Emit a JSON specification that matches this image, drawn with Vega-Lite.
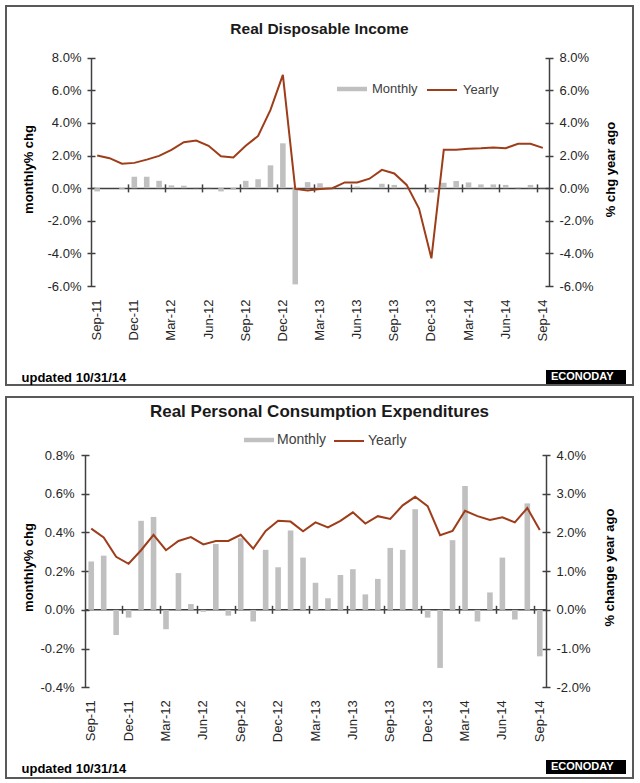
{
  "$schema": "https://vega.github.io/schema/vega-lite/v6.json",
  "padding": {"left": 5, "top": 5, "right": 0, "bottom": 0},
  "autosize": {"type": "pad"},
  "background": "white",
  "spacing": 10,
  "config": {"font": "Liberation Sans", "view": {"stroke": null}, "axis": {"grid": false}},
  "datasets": {
    "rdi": [
      {"m": "Sep-11", "monthly": -0.2, "yearly": 2.0},
      {"m": "Oct-11", "monthly": 0.0, "yearly": 1.84},
      {"m": "Nov-11", "monthly": -0.05, "yearly": 1.5},
      {"m": "Dec-11", "monthly": 0.7, "yearly": 1.55},
      {"m": "Jan-12", "monthly": 0.7, "yearly": 1.75},
      {"m": "Feb-12", "monthly": 0.45, "yearly": 1.98},
      {"m": "Mar-12", "monthly": 0.17, "yearly": 2.35},
      {"m": "Apr-12", "monthly": 0.15, "yearly": 2.82},
      {"m": "May-12", "monthly": 0.05, "yearly": 2.92},
      {"m": "Jun-12", "monthly": 0.05, "yearly": 2.6},
      {"m": "Jul-12", "monthly": -0.2, "yearly": 1.95},
      {"m": "Aug-12", "monthly": -0.1, "yearly": 1.88},
      {"m": "Sep-12", "monthly": 0.45, "yearly": 2.6},
      {"m": "Oct-12", "monthly": 0.55, "yearly": 3.2},
      {"m": "Nov-12", "monthly": 1.4, "yearly": 4.8},
      {"m": "Dec-12", "monthly": 2.75, "yearly": 6.95},
      {"m": "Jan-13", "monthly": -5.9, "yearly": -0.05},
      {"m": "Feb-13", "monthly": 0.37, "yearly": -0.15},
      {"m": "Mar-13", "monthly": 0.3, "yearly": -0.05},
      {"m": "Apr-13", "monthly": 0.05, "yearly": 0.0},
      {"m": "May-13", "monthly": 0.05, "yearly": 0.35},
      {"m": "Jun-13", "monthly": 0.1, "yearly": 0.35},
      {"m": "Jul-13", "monthly": 0.05, "yearly": 0.58},
      {"m": "Aug-13", "monthly": 0.27, "yearly": 1.12},
      {"m": "Sep-13", "monthly": 0.2, "yearly": 0.9},
      {"m": "Oct-13", "monthly": 0.05, "yearly": 0.2},
      {"m": "Nov-13", "monthly": 0.0, "yearly": -1.25},
      {"m": "Dec-13", "monthly": -0.27, "yearly": -4.3},
      {"m": "Jan-14", "monthly": 0.33, "yearly": 2.35},
      {"m": "Feb-14", "monthly": 0.44, "yearly": 2.35},
      {"m": "Mar-14", "monthly": 0.35, "yearly": 2.42},
      {"m": "Apr-14", "monthly": 0.23, "yearly": 2.45},
      {"m": "May-14", "monthly": 0.23, "yearly": 2.5},
      {"m": "Jun-14", "monthly": 0.2, "yearly": 2.45},
      {"m": "Jul-14", "monthly": 0.05, "yearly": 2.72},
      {"m": "Aug-14", "monthly": 0.2, "yearly": 2.72},
      {"m": "Sep-14", "monthly": 0.05, "yearly": 2.47}
    ],
    "pce": [
      {"m": "Sep-11", "monthly": 0.25, "yearly": 2.10},
      {"m": "Oct-11", "monthly": 0.28, "yearly": 1.87},
      {"m": "Nov-11", "monthly": -0.13, "yearly": 1.37},
      {"m": "Dec-11", "monthly": -0.04, "yearly": 1.19},
      {"m": "Jan-12", "monthly": 0.46, "yearly": 1.54},
      {"m": "Feb-12", "monthly": 0.48, "yearly": 1.94},
      {"m": "Mar-12", "monthly": -0.10, "yearly": 1.54},
      {"m": "Apr-12", "monthly": 0.19, "yearly": 1.78},
      {"m": "May-12", "monthly": 0.03, "yearly": 1.88},
      {"m": "Jun-12", "monthly": -0.01, "yearly": 1.69},
      {"m": "Jul-12", "monthly": 0.34, "yearly": 1.78},
      {"m": "Aug-12", "monthly": -0.03, "yearly": 1.78},
      {"m": "Sep-12", "monthly": 0.37, "yearly": 1.94},
      {"m": "Oct-12", "monthly": -0.06, "yearly": 1.58},
      {"m": "Nov-12", "monthly": 0.31, "yearly": 2.04},
      {"m": "Dec-12", "monthly": 0.22, "yearly": 2.30},
      {"m": "Jan-13", "monthly": 0.41, "yearly": 2.28},
      {"m": "Feb-13", "monthly": 0.27, "yearly": 2.03},
      {"m": "Mar-13", "monthly": 0.14, "yearly": 2.26},
      {"m": "Apr-13", "monthly": 0.06, "yearly": 2.13},
      {"m": "May-13", "monthly": 0.18, "yearly": 2.30},
      {"m": "Jun-13", "monthly": 0.21, "yearly": 2.52},
      {"m": "Jul-13", "monthly": 0.08, "yearly": 2.23},
      {"m": "Aug-13", "monthly": 0.16, "yearly": 2.42},
      {"m": "Sep-13", "monthly": 0.32, "yearly": 2.35},
      {"m": "Oct-13", "monthly": 0.31, "yearly": 2.70},
      {"m": "Nov-13", "monthly": 0.52, "yearly": 2.92},
      {"m": "Dec-13", "monthly": -0.04, "yearly": 2.68},
      {"m": "Jan-14", "monthly": -0.30, "yearly": 1.93},
      {"m": "Feb-14", "monthly": 0.36, "yearly": 2.04},
      {"m": "Mar-14", "monthly": 0.64, "yearly": 2.56},
      {"m": "Apr-14", "monthly": -0.06, "yearly": 2.42},
      {"m": "May-14", "monthly": 0.09, "yearly": 2.32},
      {"m": "Jun-14", "monthly": 0.27, "yearly": 2.39},
      {"m": "Jul-14", "monthly": -0.05, "yearly": 2.26},
      {"m": "Aug-14", "monthly": 0.55, "yearly": 2.63},
      {"m": "Sep-14", "monthly": -0.24, "yearly": 2.06}
    ]
  },
  "vconcat": [
    {
      "width": 627,
      "height": 379,
      "view": {"stroke": "#595959", "strokeWidth": 2, "fill": "white"},
      "title": {"text": "Real Disposable  Income", "fontSize": 15.5, "fontWeight": "bold", "color": "#1a1a1a", "anchor": "middle", "frame": "group", "offset": -31},
      "data": {"name": "rdi"},
      "layer": [
        {
          "mark": {"type": "bar"},
          "encoding": {
            "x": {"field": "m", "type": "ordinal", "sort": null,
              "scale": {"range": [85, 543], "paddingInner": 0.55, "paddingOuter": 0.275},
              "axis": {"orient": "bottom", "offset": -99, "domain": false, "ticks": false, "tickSize": 0, "labelAngle": -90, "labelPadding": 13, "labelFontSize": 13, "labelColor": "#262626", "labelOverlap": false, "labelBound": false, "labelFlush": false,
                "values": ["Sep-11", "Dec-11", "Mar-12", "Jun-12", "Sep-12", "Dec-12", "Mar-13", "Jun-13", "Sep-13", "Dec-13", "Mar-14", "Jun-14", "Sep-14"],
                "title": "updated 10/31/14", "titleX": 15, "titleY": 91, "titleAlign": "left", "titleBaseline": "middle", "titleFontSize": 13, "titleFontWeight": "bold", "titleColor": "#000000"}},
            "y": {"field": "monthly", "type": "quantitative",
              "scale": {"domain": [-6, 8], "range": [280, 51.7], "nice": false, "zero": false},
              "axis": {"orient": "left", "offset": -85, "domain": true, "domainColor": "#404040", "domainWidth": 1.5, "ticks": false, "tickSize": 0, "labelPadding": 10, "values": [-6, -4, -2, 0, 2, 4, 6, 8],
                "labelExpr": "(datum.value < 0 ? '-' : '') + format(abs(datum.value), '.1f') + '%'", "labelFontSize": 13, "labelColor": "#262626",
                "title": "monthly% chg", "titleFontSize": 13, "titleFontWeight": "bold", "titleColor": "#000000", "titleAngle": -90, "titleX": -63, "titleY": 163, "titleBaseline": "middle", "titleAlign": "center"}},
            "fill": {"datum": "Monthly", "type": "nominal", "scale": {"range": ["#c0c0c0"]},
              "legend": {"orient": "none", "legendX": 331, "legendY": 68, "title": null, "symbolType": "M-1,-0.15H1V0.15H-1Z", "symbolSize": 900, "symbolStrokeWidth": 0, "labelFontSize": 13, "labelColor": "#404040", "labelOffset": 5, "padding": 0}}
          }
        },
        {
          "mark": {"type": "line", "strokeWidth": 2},
          "encoding": {
            "x": {"field": "m", "type": "ordinal", "sort": null,
              "axis": {"orient": "bottom", "offset": -197.1, "domain": true, "domainColor": "#404040", "domainWidth": 1.5, "ticks": false, "labels": false, "title": null}},
            "y": {"field": "yearly", "type": "quantitative",
              "scale": {"domain": [-6, 8], "range": [280, 51.7], "nice": false, "zero": false},
              "axis": {"orient": "right", "offset": -84, "domain": true, "domainColor": "#404040", "domainWidth": 1.5, "ticks": false, "tickSize": 0, "labelPadding": 10, "values": [-6, -4, -2, 0, 2, 4, 6, 8],
                "labelExpr": "(datum.value < 0 ? '-' : '') + format(abs(datum.value), '.1f') + '%'", "labelFontSize": 13, "labelColor": "#262626",
                "title": "% chg year ago", "titleFontSize": 13, "titleFontWeight": "bold", "titleColor": "#000000", "titleAngle": -90, "titleX": 61, "titleY": 163, "titleBaseline": "middle", "titleAlign": "center"}},
            "stroke": {"datum": "Yearly", "type": "nominal", "scale": {"range": ["#9e3d1a"]},
              "legend": {"orient": "none", "legendX": 420, "legendY": 68, "title": null, "symbolType": "stroke", "symbolSize": 900, "symbolStrokeWidth": 2, "labelFontSize": 13, "labelColor": "#404040", "labelOffset": 5, "padding": 0}}
          }
        },
        {
          "mark": {"type": "bar", "opacity": 0},
          "encoding": {
            "x": {"field": "m", "type": "ordinal", "sort": null,
              "axis": {"orient": "bottom", "offset": -201.1, "domain": false, "ticks": true, "tickSize": 8, "tickColor": "#404040", "tickWidth": 1.5, "tickOffset": -6.19, "labels": false,
                "values": ["Dec-11", "Mar-12", "Jun-12", "Sep-12", "Dec-12", "Mar-13", "Jun-13", "Sep-13", "Dec-13", "Mar-14", "Jun-14", "Sep-14"], "title": null}},
            "y": {"field": "monthly", "type": "quantitative",
              "scale": {"domain": [-6, 8], "range": [280, 51.7], "nice": false, "zero": false},
              "axis": {"orient": "left", "offset": -89, "domain": false, "labels": false, "ticks": true, "tickSize": 8, "tickColor": "#404040", "tickWidth": 1.5, "values": [-6, -4, -2, 0, 2, 4, 6, 8], "title": null}}
          }
        },
        {
          "mark": {"type": "bar", "opacity": 0, "color": "#000000"},
          "encoding": {
            "x": {"field": "m", "type": "ordinal", "sort": null, "axis": null},
            "y": {"field": "yearly", "type": "quantitative",
              "scale": {"domain": [-6, 8], "range": [280, 51.7], "nice": false, "zero": false},
              "axis": {"orient": "right", "offset": -88, "domain": false, "labels": false, "ticks": true, "tickSize": 8, "tickColor": "#404040", "tickWidth": 1.5, "values": [-6, -4, -2, 0, 2, 4, 6, 8], "title": null}},
            "strokeDash": {"datum": "ECONODAY", "type": "nominal",
              "legend": {"orient": "none", "legendX": 540, "legendY": 331, "title": null, "symbolType": "M-1,-0.175H1V0.175H-1Z", "symbolSize": 6400, "symbolFillColor": "#000000", "symbolStrokeWidth": 0, "symbolOpacity": 1, "labelFontSize": 11, "labelFontWeight": "bold", "labelColor": "#ffffff", "labelOffset": -75, "padding": 0}}
          }
        }
      ],
      "resolve": {"scale": {"y": "independent"}, "axis": {"x": "independent", "y": "independent"}}
    },
    {
      "width": 627,
      "height": 381,
      "view": {"stroke": "#595959", "strokeWidth": 2, "fill": "white"},
      "title": {"text": "Real Personal Consumption  Expenditures", "fontSize": 17, "fontWeight": "bold", "color": "#1a1a1a", "anchor": "middle", "frame": "group", "offset": -24},
      "data": {"name": "pce"},
      "layer": [
        {
          "mark": {"type": "bar"},
          "encoding": {
            "x": {"field": "m", "type": "ordinal", "sort": null,
              "scale": {"range": [79, 540], "paddingInner": 0.55, "paddingOuter": 0.275},
              "axis": {"orient": "bottom", "offset": -90.7, "domain": false, "ticks": false, "tickSize": 0, "labelAngle": -90, "labelPadding": 12.5, "labelFontSize": 13, "labelColor": "#262626", "labelOverlap": false, "labelBound": false, "labelFlush": false,
                "values": ["Sep-11", "Dec-11", "Mar-12", "Jun-12", "Sep-12", "Dec-12", "Mar-13", "Jun-13", "Sep-13", "Dec-13", "Mar-14", "Jun-14", "Sep-14"],
                "title": "updated 10/31/14", "titleX": 15, "titleY": 80.7, "titleAlign": "left", "titleBaseline": "middle", "titleFontSize": 13, "titleFontWeight": "bold", "titleColor": "#000000"}},
            "y": {"field": "monthly", "type": "quantitative",
              "scale": {"domain": [-0.4, 0.8], "range": [290.3, 58], "nice": false, "zero": false},
              "axis": {"orient": "left", "offset": -79, "domain": true, "domainColor": "#404040", "domainWidth": 1.5, "ticks": false, "tickSize": 0, "labelPadding": 11, "values": [-0.4, -0.2, 0, 0.2, 0.4, 0.6, 0.8],
                "labelExpr": "(datum.value < 0 ? '-' : '') + format(abs(datum.value), '.1f') + '%'", "labelFontSize": 13, "labelColor": "#262626",
                "title": "monthly% chg", "titleFontSize": 13, "titleFontWeight": "bold", "titleColor": "#000000", "titleAngle": -90, "titleX": -57, "titleY": 170, "titleBaseline": "middle", "titleAlign": "center"}},
            "fill": {"datum": "Monthly", "type": "nominal", "scale": {"range": ["#c0c0c0"]},
              "legend": {"orient": "none", "legendX": 238, "legendY": 28, "title": null, "symbolType": "M-1,-0.15H1V0.15H-1Z", "symbolSize": 900, "symbolStrokeWidth": 0, "labelFontSize": 14, "labelColor": "#404040", "labelOffset": 3, "padding": 0}}
          }
        },
        {
          "mark": {"type": "line", "strokeWidth": 2},
          "encoding": {
            "x": {"field": "m", "type": "ordinal", "sort": null,
              "axis": {"orient": "bottom", "offset": -168.7, "domain": true, "domainColor": "#404040", "domainWidth": 1.5, "ticks": false, "labels": false, "title": null}},
            "y": {"field": "yearly", "type": "quantitative",
              "scale": {"domain": [-2, 4], "range": [290.3, 58], "nice": false, "zero": false},
              "axis": {"orient": "right", "offset": -87, "domain": true, "domainColor": "#404040", "domainWidth": 1.5, "ticks": false, "tickSize": 0, "labelPadding": 10, "values": [-2, -1, 0, 1, 2, 3, 4],
                "labelExpr": "(datum.value < 0 ? '-' : '') + format(abs(datum.value), '.1f') + '%'", "labelFontSize": 13, "labelColor": "#262626",
                "title": "% change year ago", "titleFontSize": 13, "titleFontWeight": "bold", "titleColor": "#000000", "titleAngle": -90, "titleX": 63, "titleY": 170, "titleBaseline": "middle", "titleAlign": "center"}},
            "stroke": {"datum": "Yearly", "type": "nominal", "scale": {"range": ["#9e3d1a"]},
              "legend": {"orient": "none", "legendX": 327, "legendY": 28, "title": null, "symbolType": "stroke", "symbolSize": 900, "symbolStrokeWidth": 2, "labelFontSize": 14, "labelColor": "#404040", "labelOffset": 3, "padding": 0}}
          }
        },
        {
          "mark": {"type": "bar", "opacity": 0},
          "encoding": {
            "x": {"field": "m", "type": "ordinal", "sort": null,
              "axis": {"orient": "bottom", "offset": -172.7, "domain": false, "ticks": true, "tickSize": 8, "tickColor": "#404040", "tickWidth": 1.5, "tickOffset": -6.23, "labels": false,
                "values": ["Dec-11", "Mar-12", "Jun-12", "Sep-12", "Dec-12", "Mar-13", "Jun-13", "Sep-13", "Dec-13", "Mar-14", "Jun-14", "Sep-14"], "title": null}},
            "y": {"field": "monthly", "type": "quantitative",
              "scale": {"domain": [-0.4, 0.8], "range": [290.3, 58], "nice": false, "zero": false},
              "axis": {"orient": "left", "offset": -83, "domain": false, "labels": false, "ticks": true, "tickSize": 8, "tickColor": "#404040", "tickWidth": 1.5, "values": [-0.4, -0.2, 0, 0.2, 0.4, 0.6, 0.8], "title": null}}
          }
        },
        {
          "mark": {"type": "bar", "opacity": 0, "color": "#000000"},
          "encoding": {
            "x": {"field": "m", "type": "ordinal", "sort": null, "axis": null},
            "y": {"field": "yearly", "type": "quantitative",
              "scale": {"domain": [-2, 4], "range": [290.3, 58], "nice": false, "zero": false},
              "axis": {"orient": "right", "offset": -91, "domain": false, "labels": false, "ticks": true, "tickSize": 8, "tickColor": "#404040", "tickWidth": 1.5, "values": [-2, -1, 0, 1, 2, 3, 4], "title": null}},
            "strokeDash": {"datum": "ECONODAY", "type": "nominal",
              "legend": {"orient": "none", "legendX": 540, "legendY": 330, "title": null, "symbolType": "M-1,-0.175H1V0.175H-1Z", "symbolSize": 6400, "symbolFillColor": "#000000", "symbolStrokeWidth": 0, "symbolOpacity": 1, "labelFontSize": 11, "labelFontWeight": "bold", "labelColor": "#ffffff", "labelOffset": -75, "padding": 0}}
          }
        }
      ],
      "resolve": {"scale": {"y": "independent"}, "axis": {"x": "independent", "y": "independent"}}
    }
  ],
  "resolve": {"scale": {"x": "independent", "y": "independent", "fill": "independent", "stroke": "independent", "strokeDash": "independent"}, "legend": {"fill": "independent", "stroke": "independent", "strokeDash": "independent"}}
}
